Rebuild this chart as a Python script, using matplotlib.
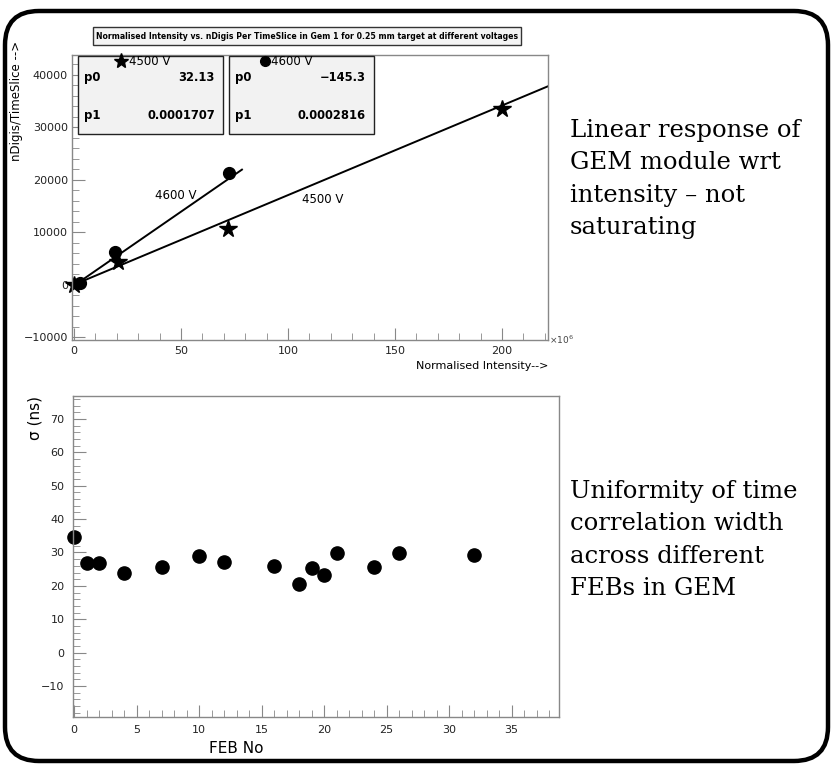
import matplotlib
matplotlib.use("Agg")
import matplotlib.pyplot as plt
from matplotlib.patches import FancyBboxPatch, Rectangle
from matplotlib.ticker import MultipleLocator
import numpy as np

W, H = 831, 765

# --- data: nDigis vs normalised intensity (x in units of 1e6) ---
int_4500 = [0, 20.5, 71.8, 200]
digis_4500 = [0, 4400, 10700, 33500]
int_4600 = [2.9, 19.3, 72.6]
digis_4600 = [300, 6200, 21400]
fit_4500 = [32.13, 0.0001707]   # p0, p1
fit_4600 = [-145.3, 0.0002816]
fit_range_4500 = [0, 222]
fit_range_4600 = [0, 78.5]

# --- data: time correlation width per FEB ---
feb_no = [0, 1, 2, 4, 7, 10, 12, 16, 18, 19, 20, 21, 24, 26, 32]
sigma_ns = [34.6, 27.0, 26.8, 24.0, 25.6, 29.0, 27.3, 26.0, 20.6, 25.3, 23.2, 29.8, 25.7, 29.7, 29.3]

title_top = "Normalised Intensity vs. nDigis Per TimeSlice in Gem 1 for 0.25 mm target at different voltages"
note_top = "Linear response of\nGEM module wrt\nintensity \u2013 not\nsaturating"
note_bottom = "Uniformity of time\ncorrelation width\nacross different\nFEBs in GEM"

fig = plt.figure(figsize=(W / 100, H / 100), dpi=100)


def px_axes(l, t, r, b):
    return fig.add_axes([l / W, 1 - b / H, (r - l) / W, (b - t) / H])


def root_style(ax):
    for s in ax.spines.values():
        s.set_color("#888888")
        s.set_linewidth(1.0)
    ax.tick_params(which="both", direction="in", color="#888888", labelsize=8,
                   top=False, right=False, labelcolor="#222222", pad=4)
    ax.tick_params(which="major", length=9)
    ax.tick_params(which="minor", length=5)


# ---------------- top plot ----------------
ax1 = px_axes(72, 55, 548, 340)
root_style(ax1)
ax1.set_xlim(-0.9, 221.5)
ax1.set_ylim(-10500, 43800)
ax1.xaxis.set_major_locator(MultipleLocator(50))
ax1.xaxis.set_minor_locator(MultipleLocator(10))
ax1.yaxis.set_major_locator(MultipleLocator(10000))
ax1.yaxis.set_minor_locator(MultipleLocator(2000))
ax1.tick_params(axis="y", pad=3)

xf = np.array(fit_range_4500)
ax1.plot(xf, fit_4500[0] + fit_4500[1] * 1e6 * xf, color="black", lw=1.4)
xf = np.array(fit_range_4600)
ax1.plot(xf, fit_4600[0] + fit_4600[1] * 1e6 * xf, color="black", lw=1.4)
ax1.plot(int_4500, digis_4500, ls="none", marker="*", ms=13, color="black", clip_on=False)
ax1.plot(int_4600, digis_4600, ls="none", marker="o", ms=8.5, color="black")
ax1.text(47.5, 17000, "4600 V", fontsize=8.5, ha="center", va="center")
ax1.text(116, 16200, "4500 V", fontsize=8.5, ha="center", va="center")

ax1.set_ylabel("nDigis/TimeSlice -->", fontsize=8.5, loc="top")
ax1.yaxis.set_label_coords((23 - 72) / (548 - 72), 1.05)
ax1.set_xlabel("Normalised Intensity-->", fontsize=8, loc="right", labelpad=4)
ax1.text(1.003, 0.0, "\u00d710$^6$", transform=ax1.transAxes, fontsize=6.5,
         color="#444444", ha="left", va="center")

# ---------------- bottom plot ----------------
ax2 = px_axes(73, 396, 559, 717)
root_style(ax2)
ax2.set_xlim(-0.08, 38.8)
ax2.set_ylim(-19.3, 76.9)
ax2.xaxis.set_major_locator(MultipleLocator(5))
ax2.xaxis.set_minor_locator(MultipleLocator(1))
ax2.yaxis.set_major_locator(MultipleLocator(10))
ax2.yaxis.set_minor_locator(MultipleLocator(2))
ax2.tick_params(axis="y", pad=6)
ax2.tick_params(axis="x", pad=6)
ax2.plot(feb_no, sigma_ns, ls="none", marker="o", ms=9.5, color="black", clip_on=False)
ax2.set_ylabel("\u03c3 (ns)", fontsize=11, loc="top")
ax2.yaxis.set_label_coords((42 - 73) / (559 - 73), 1.0)
ax2.set_xlabel("FEB No", fontsize=11)
ax2.xaxis.set_label_coords((236 - 73) / (559 - 73), -0.075)

# overlay: slide frame, title box, stats boxes, notes
ov = fig.add_axes([0, 0, 1, 1], zorder=10)
ov.set_xlim(0, W)
ov.set_ylim(H, 0)
ov.axis("off")
ov.patch.set_alpha(0)
ov.add_patch(FancyBboxPatch((5, 11), 823, 750, boxstyle="round,pad=0,rounding_size=34",
                            fc="none", ec="black", lw=3.2))

ov.add_patch(Rectangle((93, 27), 428, 18, fc="#f4f4f4", ec="#333333", lw=1.0))
ov.text(307, 36, title_top, fontsize=5.6, fontweight="bold", ha="center", va="center")

stats = [("4500 V", "*", 11, 43, 51, 78, 223, "32.13", "0.0001707"),
         ("4600 V", "o", 7, 36, 42, 229, 374, "\u2212145.3", "0.0002816")]
for name, mk, msz, dm, dt, x0, x1, s0, s1 in stats:
    ov.add_patch(Rectangle((x0, 56), x1 - x0, 78, fc="#f2f2f2", ec="#222222", lw=1.0))
    ov.plot([x0 + dm], [61], marker=mk, ms=msz, color="black")
    ov.text(x0 + dt, 61, name, fontsize=8.5, ha="left", va="center")
    ov.text(x0 + 6, 77, "p0", fontsize=8.5, fontweight="bold", ha="left", va="center")
    ov.text(x1 - 8, 77, s0, fontsize=8.3, fontweight="bold", ha="right", va="center")
    ov.text(x0 + 6, 115, "p1", fontsize=8.5, fontweight="bold", ha="left", va="center")
    ov.text(x1 - 8, 115, s1, fontsize=8.3, fontweight="bold", ha="right", va="center")

ov.text(570, 119, note_top, fontsize=17.5, family="DejaVu Serif", ha="left", va="top",
        linespacing=1.52)
ov.text(570, 480, note_bottom, fontsize=17.5, family="DejaVu Serif", ha="left", va="top",
        linespacing=1.52)

fig.savefig("out.png", dpi=100)
